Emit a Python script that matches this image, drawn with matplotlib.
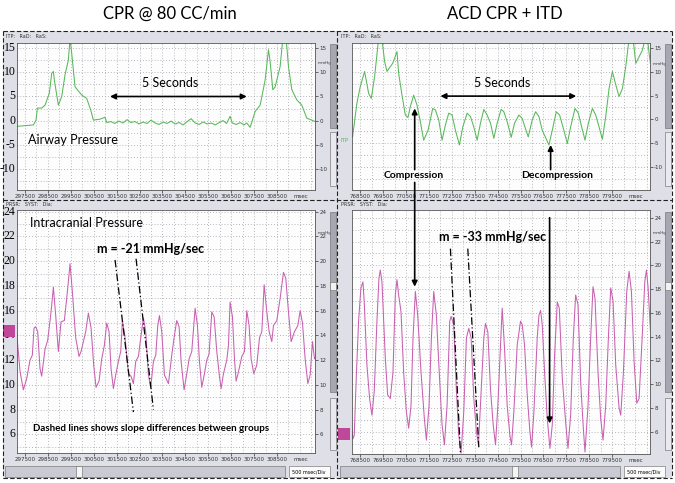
import matplotlib
matplotlib.use("Agg")
import matplotlib.pyplot as plt
from matplotlib.patches import Rectangle
from matplotlib.lines import Line2D
from matplotlib.ticker import FixedLocator, MultipleLocator

W, H = 675, 483
SANS = ['Lato', 'DejaVu Sans']
GREEN = '#58b858'
PINK = '#c860b0'

# airway pressure, standard CPR (time msec, pressure mmHg)
cpr_aw_t = [297136, 297864, 297980, 298039, 298228, 298374, 298563, 298665, 298738, 298781,
            298956, 299102, 299247, 299393, 299466, 299538, 299684, 299975, 300194, 300368,
            300485, 300776, 300994, 301067, 301250, 301420, 301600, 301780, 301950, 302120,
            302300, 302480, 302650, 302830, 303000, 303180, 303350, 303530, 303700, 303880,
            304050, 304230, 304400, 304580, 304750, 304930, 305100, 305280, 305450, 305630,
            305800, 305980, 306150, 306300, 306454, 306550, 306720, 306900, 307060, 307182,
            307328, 307430, 307546, 307765, 307983, 308129, 308202, 308318, 308420, 308638,
            308755, 308900, 309002, 309148, 309366, 309585, 309803, 310022, 310167]
cpr_aw_p = [-1.2, -0.9, 0.1, 2.6, 2.6, 3.2, 5.7, 9.8, 10.2, 8.4,
            3.2, 5.0, 9.5, 12.6, 17.0, 14.0, 7.0, 5.3, 4.6, 2.2,
            0.1, 0.3, 0.7, -0.4, -0.2, -0.6, -0.1, -0.5, 0.2, -0.4,
            -0.2, -0.7, -0.3, -0.6, 0.1, -0.5, -0.8, -0.3, -0.6, -0.1,
            -0.7, -0.4, -0.9, -0.2, 0.4, -0.5, -0.8, -0.3, -0.7, -0.5,
            -0.9, -0.4, 0.0, -0.6, 0.9, -0.5, -0.8, -0.4, -0.9, -0.5,
            -1.4, 0.1, 1.9, 3.2, 8.4, 14.7, 12.2, 6.4, 7.0, 11.2,
            17.0, 17.0, 11.2, 6.4, 4.3, 3.2, 0.5, 0.1, -0.2]

# airway pressure, ACD CPR + ITD
acd_aw_t = [768165, 768354, 768500, 768690, 768865, 768981, 769127, 769302, 769448, 769564,
            769666, 769812, 769914, 770002, 770104, 770177, 770323, 770468, 770585, 770687,
            770833, 770979, 771124, 771270, 771460, 771664, 771781, 771926, 772072, 772218,
            772364, 772510, 772655, 772830, 772976, 773166, 773311, 773457, 773603, 773749,
            773895, 774040, 774186, 774332, 774478, 774653, 774769, 774915, 775090, 775236,
            775426, 775571, 775688, 775834, 776009, 776155, 776300, 776446, 776738, 776884,
            777058, 777204, 777350, 777540, 777685, 777875, 778021, 778167, 778313, 778459,
            778634, 778780, 778926, 779071, 779217, 779363, 779508, 779654, 779800, 779946,
            780091, 780237, 780412, 780529, 780674, 780820, 780937, 781039, 781112, 781185]
acd_aw_p = [-3.7, 3.4, 6.9, 10.1, 5.5, 4.4, 9.0, 17.0, 17.0, 12.2,
            10.1, 11.1, 11.8, 12.9, 14.3, 9.7, 5.1, 0.9, 0.4, 2.7,
            5.1, 3.0, -0.5, -4.4, -2.3, 2.3, 2.0, -0.1, -4.4, -1.2,
            1.3, 0.9, -2.3, -5.4, -1.6, 1.3, 0.6, -1.6, -4.4, -0.8,
            2.1, 0.9, -0.8, -4.0, -0.8, 2.1, 1.6, -0.5, -3.8, -0.8,
            0.9, 0.2, -1.6, -3.7, -0.1, 1.6, 0.6, -2.3, -5.4, -2.3,
            1.6, 0.9, -1.6, -5.1, -1.6, 2.3, 1.3, -1.6, -4.4, -0.8,
            2.3, 0.9, -1.6, -4.2, 0.6, 6.5, 10.1, 7.3, 4.8, 6.5,
            11.1, 17.0, 17.0, 11.8, 13.2, 14.6, 17.0, 17.0, 13.9, 11.1]

# intracranial pressure, standard CPR
cpr_icp_t = [297136, 297282, 297427, 297573, 297718, 297820, 297893, 297966, 298053, 298155,
             298228, 298374, 298490, 298636, 298738, 298840, 298956, 299072, 299218, 299364,
             299466, 299568, 299713, 299859, 299946, 300048, 300150, 300266, 300383, 300499,
             300601, 300732, 300849, 300965, 301067, 301169, 301256, 301358, 301460, 301577,
             301679, 301752, 301868, 302014, 302130, 302232, 302334, 302450, 302567, 302669,
             302771, 302887, 302989, 303106, 303208, 303295, 303368, 303470, 303586, 303761,
             303906, 304023, 304125, 304227, 304314, 304445, 304562, 304664, 304780, 304926,
             305028, 305115, 305217, 305333, 305435, 305537, 305654, 305756, 305872, 305988,
             306061, 306163, 306309, 306382, 306454, 306556, 306644, 306716, 306848, 306964,
             307080, 307182, 307284, 307372, 307488, 307619, 307736, 307838, 307940, 308056,
             308158, 308274, 308347, 308493, 308638, 308784, 308886, 309002, 309119, 309264,
             309410, 309512, 309614, 309730, 309847, 309949, 310051, 310138, 310196]
cpr_icp_p = [14.2, 11.1, 9.6, 10.5, 12.0, 12.4, 14.6, 14.7, 14.3, 11.3,
             10.7, 12.9, 13.6, 15.9, 17.9, 15.6, 12.7, 15.1, 15.2, 17.8,
             19.8, 17.5, 13.8, 12.3, 12.7, 13.5, 14.3, 15.8, 14.6, 11.6,
             9.8, 10.3, 12.1, 13.2, 15.0, 14.3, 11.3, 9.7, 10.8, 11.9,
             12.7, 15.2, 13.8, 10.9, 10.7, 10.1, 11.9, 12.3, 14.0, 15.4,
             14.3, 10.8, 9.8, 11.9, 12.4, 14.8, 15.6, 14.3, 10.8, 10.1,
             12.4, 14.0, 15.2, 14.7, 11.9, 9.6, 10.9, 12.1, 12.7, 16.2,
             14.8, 11.9, 9.8, 10.9, 12.0, 12.5, 15.9, 15.5, 12.7, 10.7,
             9.7, 10.9, 12.0, 13.2, 16.7, 15.5, 12.1, 10.3, 11.3, 12.3,
             12.7, 16.0, 14.8, 12.1, 10.9, 11.6, 13.8, 14.3, 18.1, 15.9,
             14.3, 13.5, 14.8, 15.2, 17.0, 19.1, 18.6, 15.9, 13.5, 14.3,
             14.8, 16.0, 15.0, 12.1, 10.1, 10.8, 13.5, 12.1, 12.3]

# intracranial pressure, ACD CPR + ITD
acd_icp_t = [768135, 768179, 768238, 768325, 768427, 768529, 768617, 768675, 768792, 768908,
             769010, 769112, 769229, 769316, 769375, 769448, 769594, 769696, 769812, 769929,
             770031, 770104, 770177, 770279, 770395, 770512, 770614, 770716, 770804, 770906,
             771008, 771154, 771299, 771387, 771503, 771606, 771708, 771824, 771970, 772072,
             772174, 772291, 772407, 772466, 772582, 772699, 772801, 772903, 773020, 773136,
             773239, 773341, 773457, 773574, 773661, 773778, 773895, 773968, 774070, 774186,
             774303, 774405, 774507, 774624, 774697, 774799, 774915, 775032, 775105, 775207,
             775353, 775498, 775571, 775673, 775790, 775907, 775980, 776082, 776227, 776300,
             776373, 776446, 776548, 776665, 776781, 776884, 776986, 777102, 777190, 777321,
             777467, 777569, 777685, 777802, 777904, 778006, 778123, 778239, 778312, 778444,
             778560, 778662, 778750, 778881, 778998, 779100, 779216, 779333, 779435, 779537,
             779654, 779800, 779872, 779989, 780135, 780237, 780339, 780456, 780572, 780674,
             780820, 780922, 780995, 781068, 781185]
acd_icp_p = [6.3, 5.4, 5.7, 10.5, 15.3, 18.1, 18.6, 16.9, 11.6, 8.8,
             7.4, 9.4, 15.3, 18.9, 19.6, 18.6, 12.2, 9.1, 8.8, 11.0,
             17.5, 18.8, 17.5, 16.1, 11.0, 7.7, 6.3, 8.2, 13.9, 17.8,
             15.8, 11.0, 7.1, 5.3, 8.2, 13.9, 17.8, 15.8, 10.2, 6.6,
             4.9, 8.2, 15.3, 15.7, 15.0, 9.4, 5.7, 4.2, 7.7, 13.9,
             14.7, 13.9, 8.8, 6.0, 4.9, 9.4, 13.9, 15.1, 14.4, 9.6,
             6.6, 4.9, 8.2, 13.3, 16.4, 13.0, 8.2, 5.7, 4.9, 7.7,
             13.3, 15.3, 15.0, 13.3, 9.1, 6.0, 4.7, 7.7, 13.9, 15.8,
             16.2, 15.0, 11.0, 7.1, 4.6, 6.6, 12.5, 16.9, 16.4, 10.5,
             6.8, 4.6, 7.4, 13.9, 17.5, 16.7, 10.2, 6.3, 4.3, 8.2,
             13.9, 18.2, 17.2, 11.0, 7.1, 5.3, 8.2, 13.9, 18.1, 17.0,
             11.6, 8.0, 7.4, 11.0, 17.8, 19.5, 17.8, 11.9, 8.4, 8.8,
             14.4, 18.6, 19.6, 18.1, 13.9]

# slope guide lines (start, end) in (msec, mmHg)
cpr_slopes = [[(301431, 20.1), (302232, 7.8)], [(302348, 20.2), (303106, 8.0)]]
acd_slopes = [[(772437, 21.4), (772874, 4.2)], [(773195, 21.4), (773676, 4.7)]]

cpr_xticks = [297500, 298500, 299500, 300500, 301500, 302500, 303500, 304500, 305500, 306500, 307500, 308500]
acd_xticks = [768500, 769500, 770500, 771500, 772500, 773500, 774500, 775500, 776500, 777500, 778500, 779500]
aw_yticks = [-10, -5, 0, 5, 10, 15]
icp_yticks = [6, 8, 10, 12, 14, 16, 18, 20, 22, 24]


def box(x0, y0, x1, y1):
    return [x0 / W, 1 - y1 / H, (x1 - x0) / W, (y1 - y0) / H]


def rect(x0, y0, x1, y1, fc, ec='none', lw=0.5, z=0):
    fig.add_artist(Rectangle((x0 / W, 1 - y1 / H), (x1 - x0) / W, (y1 - y0) / H,
                             transform=fig.transFigure, facecolor=fc, edgecolor=ec,
                             lw=lw, zorder=z))


def ftext(x, y, s, **kw):
    fig.text(x / W, 1 - y / H, s, **kw)


def setup(ax, xlim, ylim, xticks, yticks, ygrid, mm_y, big=False):
    ax.set_xlim(*xlim)
    ax.set_ylim(*ylim)
    ax.set_facecolor('#fdfdfe')
    for s in ax.spines.values():
        s.set_color('#555555')
        s.set_linewidth(0.6)
    ax.xaxis.set_major_locator(FixedLocator(xticks))
    ax.xaxis.set_minor_locator(MultipleLocator(500))
    ax.yaxis.set_major_locator(FixedLocator(yticks))
    ax.yaxis.set_minor_locator(MultipleLocator(ygrid))
    ax.grid(which='both', color='#a0a0a8', linestyle=(0, (1, 2.5)), linewidth=0.6)
    ax.set_axisbelow(True)
    ax.yaxis.tick_right()
    ax.tick_params(which='major', labelsize=4, length=2, width=0.5, pad=1, colors='#333333')
    ax.tick_params(which='minor', length=0)
    ax.set_xticklabels([str(v) for v in xticks])
    ax.set_yticklabels([str(v) for v in yticks])
    ax.annotate('msec', xy=(1.0, 0), xycoords='axes fraction', xytext=(-10, -3),
                textcoords='offset points', ha='center', va='top', fontsize=4, color='#333333')
    ax.text(1.008, mm_y, 'mmHg', transform=ax.transAxes, fontsize=3, color='#333333')
    if big:
        for v in yticks:
            ax.text(-0.005, v, str(v), transform=ax.get_yaxis_transform(), ha='right',
                    va='center', fontsize=8.5, family=['Liberation Serif', 'DejaVu Serif'])


fig = plt.figure(figsize=(6.75, 4.83), dpi=100)
fig.patch.set_facecolor('white')

# instrument window background
rect(3, 31, 672, 478, '#dfe0e7')

ax_tl = fig.add_axes(box(17, 43, 315, 190))
ax_tr = fig.add_axes(box(352, 43, 650, 190))
ax_bl = fig.add_axes(box(17, 210, 315, 453))
ax_br = fig.add_axes(box(352, 210, 650, 454))

setup(ax_tl, (297150, 310160), (-14.4, 16.1), cpr_xticks, aw_yticks, 2.5, 0.86, big=True)
setup(ax_tr, (768140, 781150), (-14.9, 16.1), acd_xticks, aw_yticks, 2.5, 0.85)
setup(ax_bl, (297150, 310160), (4.49, 24.14), cpr_xticks, icp_yticks, 1, 0.9, big=True)
setup(ax_br, (768140, 781150), (4.13, 24.65), acd_xticks, icp_yticks, 1, 0.9)

ax_tl.plot(cpr_aw_t, cpr_aw_p, color=GREEN, lw=0.75)
ax_tr.plot(acd_aw_t, acd_aw_p, color=GREEN, lw=0.75)
ax_bl.plot(cpr_icp_t, cpr_icp_p, color=PINK, lw=0.75)
ax_br.plot(acd_icp_t, acd_icp_p, color=PINK, lw=0.75)

arrow = dict(arrowstyle='-|>', color='black', lw=1.2, mutation_scale=8, shrinkA=0, shrinkB=0)
darrow = dict(arrowstyle='<|-|>', color='black', lw=1.2, mutation_scale=8, shrinkA=0, shrinkB=0)

# top left annotations
ax_tl.annotate('', xy=(307180, 5.0), xytext=(301210, 5.0), arrowprops=darrow)
ax_tl.text(303830, 7.7, '5 Seconds', ha='center', va='center', fontsize=9, family=SANS)
ax_tl.text(297650, -4.0, 'Airway Pressure', ha='left', va='center', fontsize=9, family=SANS)

# top right annotations
ax_tr.annotate('', xy=(777930, 4.9), xytext=(772000, 4.9), arrowprops=darrow)
ax_tr.text(774700, 7.6, '5 Seconds', ha='center', va='center', fontsize=9, family=SANS)
ax_tr.text(770830, -11.9, 'Compression', ha='center', va='center', fontsize=7.5,
           fontweight='bold', family=SANS)
ax_tr.text(777100, -11.9, 'Decompression', ha='center', va='center', fontsize=7.5,
           fontweight='bold', family=SANS)
ax_tr.annotate('', xy=(770877, 2.3), xytext=(770877, -10.6), arrowprops=arrow)
ax_tr.annotate('', xy=(776811, -5.4), xytext=(776811, -10.6), arrowprops=arrow)
ax_tr.text(-0.012, -4.4, 'ITP', transform=ax_tr.get_yaxis_transform(), ha='right',
           va='center', fontsize=4, color=GREEN)

# compression arrow running down into the lower panel
ax_br.annotate('', xy=(770877, 18.2), xycoords='data', xytext=(770877, -13.3),
               textcoords=ax_tr.transData, arrowprops=arrow, annotation_clip=False)

# bottom left annotations
ax_bl.text(297720, 23.1, 'Intracranial Pressure', ha='left', va='center', fontsize=9, family=SANS)
ax_bl.text(302960, 21.0, 'm = -21 mmHg/sec', ha='center', va='center', fontsize=9,
           fontweight='bold', family=SANS)
ax_bl.text(297860, 6.5, 'Dashed lines shows slope differences between groups', ha='left',
           va='center', fontsize=7, fontweight='bold', family=SANS)
for (x0, y0), (x1, y1) in cpr_slopes:
    ax_bl.plot([x0, x1], [y0, y1], color='black', lw=0.9, linestyle=(0, (6, 2, 1, 2)))

# bottom right annotations
ax_br.text(774260, 22.4, 'm = -33 mmHg/sec', ha='center', va='center', fontsize=9,
           fontweight='bold', family=SANS)
for (x0, y0), (x1, y1) in acd_slopes:
    ax_br.plot([x0, x1], [y0, y1], color='black', lw=0.9, linestyle=(0, (6, 2, 1, 2)))
ax_br.annotate('', xy=(776767, 6.7), xytext=(776767, 24.0), arrowprops=arrow)

# titles
ftext(170, 14, 'CPR @ 80 CC/min', ha='center', va='center', fontsize=12, family=SANS)
ftext(505, 14, 'ACD CPR + ITD', ha='center', va='center', fontsize=12, family=SANS)

# channel headers
for x in (6, 341):
    ftext(x, 36, 'ITP:   RaD:   RaS:', fontsize=3.5, va='center', color='#333333')
    ftext(x, 204, 'PRSR:   SYST:   Dia:', fontsize=3.5, va='center', color='#333333')

# side scroll widgets
for x in (330, 665):
    rect(x, 44, x + 6, 128, '#a6a7b0', '#666666', 0.4, 1)
    rect(x, 132, x + 6, 186, '#e9e9ef', '#666666', 0.4, 1)
    rect(x, 212, x + 6, 392, '#a6a7b0', '#666666', 0.4, 1)
    rect(x, 282, x + 6, 290, '#f2f2f2', '#666666', 0.4, 2)
    rect(x, 398, x + 6, 450, '#e9e9ef', '#666666', 0.4, 1)

# bottom scroll bars
for x0, thumb in ((5, 76), (340, 512)):
    rect(x0, 466, x0 + 280, 477, '#c9cad3', '#666666', 0.4, 1)
    rect(thumb, 466, thumb + 6, 477, '#f4f4f4', '#666666', 0.4, 2)
    rect(x0 + 284, 466, x0 + 325, 477, '#fbfbfb', '#666666', 0.4, 1)
    ftext(x0 + 304, 471.5, '500 msec/Div', ha='center', va='center', fontsize=3.5, zorder=3)

# marker boxes
rect(3, 325, 15, 337, '#c0489a', z=2)
rect(338, 428, 350, 440, '#c0489a', z=2)

# dashed window frame
dash = dict(color='#222222', lw=0.8, linestyle=(0, (4, 2)), transform=fig.transFigure)
for x in (3, 337, 672):
    fig.add_artist(Line2D([x / W, x / W], [1 - 31 / H, 1 - 478 / H], **dash))
for y in (31, 200, 478):
    fig.add_artist(Line2D([3 / W, 672 / W], [1 - y / H, 1 - y / H], **dash))

fig.savefig('out.png', dpi=100)
